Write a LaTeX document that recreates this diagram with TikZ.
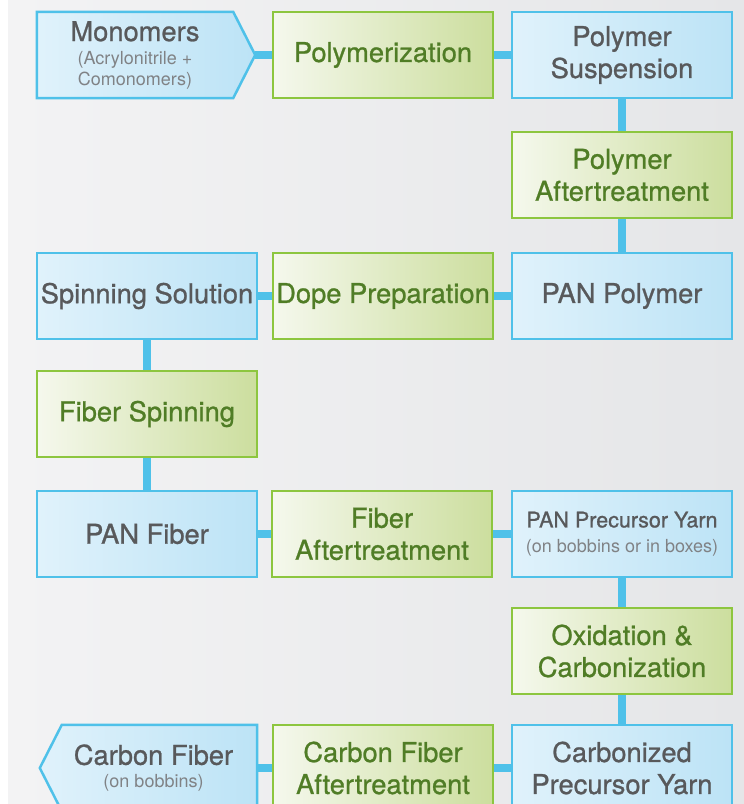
\documentclass[tikz,border=0pt]{standalone}
\usepackage{fontspec}
\setmainfont{TeX Gyre Heros}
\newfontfamily\labelfont{TeX Gyre Heros}[FakeBold=0.9]
\usetikzlibrary{backgrounds}
\definecolor{pipeblue}{RGB}{79,193,233}
\definecolor{productleft}{RGB}{224,242,251}
\definecolor{productright}{RGB}{188,227,246}
\definecolor{processborder}{RGB}{141,198,63}
\definecolor{processleft}{RGB}{245,248,237}
\definecolor{processright}{RGB}{204,222,158}
\definecolor{labelgray}{RGB}{88,89,91}
\definecolor{notegray}{RGB}{128,130,133}
\definecolor{labelgreen}{RGB}{80,125,38}
\definecolor{bgleft}{RGB}{243,243,244}
\definecolor{bgright}{RGB}{229,230,232}
\newcommand{\note}[1]{{\normalfont\fontsize{18}{21}\selectfont\color{notegray}#1}}
\tikzset{
  boxtext/.style={minimum height=86pt, inner sep=0pt, align=flush center,
    text width=216pt, text=labelgray, font=\labelfont\fontsize{27.3}{32}\selectfont},
  product/.style={boxtext, minimum width=220pt, draw=pipeblue, line width=2.5pt,
    left color=productleft, right color=productright},
  process/.style={product, draw=processborder, left color=processleft,
    right color=processright, text=labelgreen},
  tagshape/.style={draw=pipeblue, line width=2.5pt, line join=miter,
    left color=productleft, right color=productright},
  pipe/.style={draw=pipeblue, line width=8pt}
}

\begin{document}
\begin{tikzpicture}[x=1pt,y=1pt]
\useasboundingbox (0,0) rectangle (744,804);
\node[boxtext, text width=192pt, minimum width=196pt] (monomers) at (135,749)
  {Monomers\\[-9pt]\note{(Acrylonitrile +}\\[-11pt]\note{Comonomers)}};
\node[process] (polymerization) at (383,749) {Polymerization};
\node[product] (suspension) at (622,749) {Polymer\\Suspension};
\node[process] (aftertreatment) at (622,629) {Polymer\\Aftertreatment};
\node[product] (solution) at (147,508) {Spinning Solution};
\node[process] (dope) at (383,508) {Dope Preparation};
\node[product] (panpolymer) at (622,508) {PAN Polymer};
\node[process] (spinning) at (147,390) {Fiber Spinning};
\node[product] (panfiber) at (147,270) {PAN Fiber};
\node[process] (fiberafter) at (382,270) {Fiber\\Aftertreatment};
\node[product] (precursor) at (622,270)
  {{\fontsize{21.5}{25}\selectfont PAN Precursor Yarn}\\[-7pt]\note{(on bobbins or in boxes)}};
\node[process] (oxidation) at (622,153) {Oxidation \&\\Carbonization};
\node[boxtext, text width=200pt, minimum width=207pt] (carbonfiber) at (153.5,36)
  {Carbon Fiber\\[-9pt]\note{(on bobbins)}};
\node[process] (carbonafter) at (383,36) {Carbon Fiber\\Aftertreatment};
\node[product] (carbonized) at (622,36) {Carbonized\\Precursor Yarn};

\begin{pgfonlayer}{background}
\fill[left color=bgleft, right color=bgright] (8,0) rectangle (744,804);
\path[tagshape] (monomers.north west) -- (monomers.north east)
  -- ([xshift=22pt]monomers.east) -- (monomers.south east)
  -- (monomers.south west) -- cycle;
\path[tagshape] (carbonfiber.north east) -- ([xshift=12pt]carbonfiber.north west)
  -- ([xshift=-10pt]carbonfiber.west) -- ([xshift=12pt]carbonfiber.south west)
  -- (carbonfiber.south east) -- cycle;
\end{pgfonlayer}

\draw[pipe] ([xshift=22pt]monomers.east) -- (polymerization.west);
\draw[pipe] (polymerization) -- (suspension);
\draw[pipe] (suspension) -- (aftertreatment);
\draw[pipe] (aftertreatment) -- (panpolymer);
\draw[pipe] (panpolymer) -- (dope);
\draw[pipe] (dope) -- (solution);
\draw[pipe] (solution) -- (spinning);
\draw[pipe] (spinning) -- (panfiber);
\draw[pipe] (panfiber) -- (fiberafter);
\draw[pipe] (fiberafter) -- (precursor);
\draw[pipe] (precursor) -- (oxidation);
\draw[pipe] (oxidation) -- (carbonized);
\draw[pipe] (carbonized) -- (carbonafter);
\draw[pipe] (carbonafter) -- (carbonfiber.east);
\end{tikzpicture}
\end{document}
